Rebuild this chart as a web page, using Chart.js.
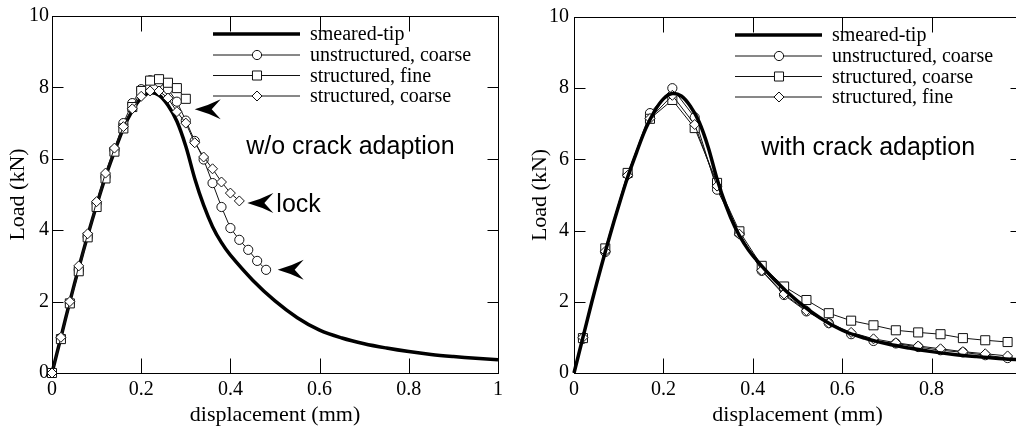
<!DOCTYPE html>
<html>
<head>
<meta charset="utf-8">
<script src="https://cdn.jsdelivr.net/npm/chart.js@4.4.1/dist/chart.umd.min.js"></script>
<style>
  html, body { margin: 0; padding: 0; background: #fff; overflow: hidden; width: 1016px; height: 429px; }
  #left { position: absolute; left: 0; top: 0; }
  #right { position: absolute; left: 508px; top: 0; }
</style>
</head>
<body>
<canvas id="left" width="508" height="429"></canvas>
<canvas id="right" width="530" height="429"></canvas>
<script>
// Tick values
const xTickValues = [0, 0.2, 0.4, 0.6, 0.8, 1];
const yTickValues = [0, 2, 4, 6, 8, 10];

// Smeared-tip reference curve (same in both panels)
const smearedX = [0, 0.02, 0.04, 0.06, 0.08, 0.10, 0.12, 0.14, 0.16, 0.18, 0.20, 0.22, 0.24, 0.26, 0.28, 0.30,
    0.32, 0.34, 0.36, 0.38, 0.40, 0.45, 0.50, 0.55, 0.60, 0.65, 0.70, 0.75, 0.80, 0.85, 0.90, 0.95, 1.00];
const smearedLoad = [0, 1.0, 2.0, 2.95, 3.85, 4.7, 5.5, 6.2, 6.85, 7.35, 7.7, 7.85, 7.78, 7.5, 7.05, 6.35,
    5.45, 4.7, 4.1, 3.65, 3.3, 2.6, 2.02, 1.55, 1.2, 0.98, 0.82, 0.7, 0.6, 0.52, 0.46, 0.41, 0.37];

// Left panel: w/o crack adaption
const leftUnstructCoarseX = [0, 0.02, 0.04, 0.06, 0.08, 0.10, 0.12, 0.14, 0.16, 0.18, 0.20, 0.22, 0.24,
    0.26, 0.28, 0.30, 0.32, 0.34, 0.36, 0.38, 0.40, 0.42, 0.44, 0.46, 0.48];
const leftUnstructCoarse = [0, 0.98, 1.96, 2.89, 3.82, 4.76, 5.5, 6.25, 7.0, 7.56, 7.95, 8.2, 8.15,
    7.95, 7.6, 7.07, 6.5, 5.98, 5.32, 4.65, 4.06, 3.73, 3.45, 3.14, 2.89];
const leftStructFineX = [0, 0.02, 0.04, 0.06, 0.08, 0.10, 0.12, 0.14, 0.16, 0.18, 0.20, 0.22, 0.24, 0.26, 0.28, 0.30];
const leftStructFine = [0, 0.95, 1.95, 2.85, 3.8, 4.65, 5.45, 6.2, 6.85, 7.45, 7.9, 8.19, 8.23, 8.13, 7.98, 7.68];
const leftStructCoarseX = [0, 0.02, 0.04, 0.06, 0.08, 0.10, 0.12, 0.14, 0.16, 0.18, 0.20, 0.22, 0.24,
    0.26, 0.28, 0.30, 0.32, 0.34, 0.36, 0.38, 0.40, 0.42];
const leftStructCoarse = [0, 1.0, 2.0, 3.0, 3.9, 4.8, 5.6, 6.3, 6.9, 7.4, 7.75, 7.9, 7.9,
    7.7, 7.32, 7.0, 6.45, 6.05, 5.72, 5.35, 5.04, 4.82];

// Right panel: with crack adaption
const rightX = [0, 0.02, 0.07, 0.12, 0.17, 0.22, 0.27, 0.32, 0.37, 0.42, 0.47, 0.52, 0.57, 0.62, 0.67,
    0.72, 0.77, 0.82, 0.87, 0.92, 0.97];
const rightUnstructCoarse = [0, 0.96, 3.4, 5.58, 7.3, 8.0, 7.18, 5.15, 3.92, 2.87, 2.19, 1.73, 1.4, 1.09, 0.9,
    0.83, 0.73, 0.64, 0.58, 0.5, 0.42];
const rightStructCoarse = [0, 0.98, 3.5, 5.62, 7.14, 7.67, 6.88, 5.34, 3.98, 3.01, 2.43, 2.05, 1.68, 1.47, 1.34,
    1.2, 1.14, 1.09, 0.98, 0.92, 0.87];
const rightStructFine = [0, 1.0, 3.42, 5.55, 7.15, 7.8, 6.98, 5.25, 3.9, 2.88, 2.22, 1.75, 1.4, 1.14, 0.96,
    0.85, 0.76, 0.68, 0.6, 0.54, 0.48];

// Annotations (data coordinates)
const leftNotes = [
    { text: 'w/o crack adaption', x: 0.669, y: 6.33, align: 'center' },
    { text: 'lock', x: 0.503, y: 4.7, align: 'left' }
];
const leftArrows = [[0.32, 7.39], [0.438, 4.76], [0.506, 2.89]];
const rightNotes = [
    { text: 'with crack adaption', x: 0.658, y: 6.33, align: 'center' }
];

const SERIF = "'Liberation Serif', 'Times New Roman', serif";
const SANS = "'Liberation Sans', Arial, sans-serif";

function toPoints(xs, ys) {
    return xs.map((x, i) => ({ x: x, y: ys[i] }));
}

function smearedSet(order) {
    return {
        label: 'smeared-tip',
        data: toPoints(smearedX, smearedLoad),
        borderColor: '#000',
        borderWidth: 3.5,
        pointRadius: 0,
        tension: 0.35,
        order: order
    };
}

function markerSet(label, xs, ys, style, radius, order, hideFirst) {
    return {
        label: label,
        data: toPoints(xs, ys),
        borderColor: '#111',
        borderWidth: 1,
        pointStyle: style,
        pointRadius: hideFirst ? (c => c.dataIndex === 0 ? 0 : radius) : radius,
        legendRadius: radius,
        pointBorderColor: '#111',
        pointBackgroundColor: '#fff',
        pointBorderWidth: 1,
        tension: 0,
        order: order
    };
}

// frame with inward ticks on all four sides
const framePlugin = {
    id: 'frame',
    beforeDatasetsDraw(chart) {
        const { ctx, chartArea: a, scales: { x, y } } = chart;
        const L = Math.round(a.left) + 0.5, R = Math.round(a.right) + 0.5;
        const T = Math.round(a.top) + 0.5, B = Math.round(a.bottom) + 0.5;
        ctx.save();
        ctx.strokeStyle = '#000';
        ctx.lineWidth = 1;
        ctx.strokeRect(L, T, R - L, B - T);
        ctx.beginPath();
        x.ticks.forEach(t => {
            const px = Math.round(x.getPixelForValue(t.value)) + 0.5;
            ctx.moveTo(px, B); ctx.lineTo(px, B - 15);
            ctx.moveTo(px, T); ctx.lineTo(px, T + 15);
        });
        y.ticks.forEach(t => {
            const py = Math.round(y.getPixelForValue(t.value)) + 0.5;
            ctx.moveTo(L, py); ctx.lineTo(L + 11, py);
            ctx.moveTo(R, py); ctx.lineTo(R - 11, py);
        });
        ctx.stroke();
        ctx.restore();
    }
};

// legend drawn inside the plot
const insideLegend = {
    id: 'insideLegend',
    afterDraw(chart) {
        const { ctx, chartArea: a } = chart;
        const rows = [18, 39, 59.5, 80];
        ctx.save();
        chart.data.datasets.forEach((ds, i) => {
            const yy = a.top + rows[i];
            const x0 = a.left + 161, x1 = a.left + 248, xm = a.left + 205;
            ctx.strokeStyle = ds.borderColor;
            ctx.lineWidth = ds.borderWidth;
            ctx.beginPath();
            ctx.moveTo(x0, yy); ctx.lineTo(x1, yy);
            ctx.stroke();
            if (ds.pointStyle) {
                ctx.fillStyle = '#fff';
                ctx.strokeStyle = ds.pointBorderColor;
                ctx.lineWidth = 1;
                Chart.helpers.drawPoint(ctx, { pointStyle: ds.pointStyle, radius: ds.legendRadius, borderWidth: 1 }, xm, yy);
            }
            ctx.fillStyle = '#000';
            ctx.font = '20px ' + SERIF;
            ctx.textAlign = 'left';
            ctx.textBaseline = 'middle';
            ctx.fillText(ds.label, a.left + 258, yy + 1);
        });
        ctx.restore();
    }
};

// text notes and arrowheads
const notesPlugin = {
    id: 'notes',
    afterDatasetsDraw(chart, args, opts) {
        const { ctx, scales: { x, y } } = chart;
        ctx.save();
        ctx.fillStyle = '#000';
        ctx.font = '25px ' + SANS;
        ctx.textBaseline = 'middle';
        (opts.notes || []).forEach(n => {
            ctx.textAlign = n.align;
            ctx.fillText(n.text, x.getPixelForValue(n.x), y.getPixelForValue(n.y));
        });
        (opts.arrows || []).forEach(([ax, ay]) => {
            const px = x.getPixelForValue(ax), py = y.getPixelForValue(ay);
            ctx.beginPath();
            ctx.moveTo(px, py);
            ctx.quadraticCurveTo(px + 14, py - 4, px + 26, py - 10);
            ctx.lineTo(px + 17, py);
            ctx.lineTo(px + 26, py + 10);
            ctx.quadraticCurveTo(px + 14, py + 4, px, py);
            ctx.closePath();
            ctx.fill();
        });
        ctx.restore();
    }
};

function buildOptions(cfg) {
    return {
        responsive: false,
        animation: false,
        layout: { padding: { top: 16, right: cfg.padRight, left: 0, bottom: 0 } },
        plugins: {
            legend: { display: false },
            tooltip: { enabled: false },
            notes: { notes: cfg.notes, arrows: cfg.arrows }
        },
        scales: {
            x: {
                type: 'linear',
                min: 0, max: 1,
                afterBuildTicks: s => { s.ticks = xTickValues.map(v => ({ value: v })); },
                afterFit: s => { s.height = 56; },
                grid: { display: false, drawTicks: false },
                border: { display: false },
                ticks: {
                    padding: 5,
                    color: '#000',
                    font: { family: SERIF, size: 20 },
                    maxRotation: 0,
                    autoSkip: false,
                    callback: v => String(+v.toFixed(1))
                },
                title: {
                    display: true,
                    text: 'displacement (mm)',
                    color: '#000',
                    font: { family: SERIF, size: 22 },
                    padding: { top: 0, bottom: 1 }
                }
            },
            y: {
                min: 0, max: 10,
                afterBuildTicks: s => { s.ticks = yTickValues.map(v => ({ value: v })); },
                afterFit: s => { s.width = cfg.yWidth; },
                grid: { display: false, drawTicks: false },
                border: { display: false },
                ticks: {
                    padding: cfg.yTickPad,
                    color: '#000',
                    font: { family: SERIF, size: 20 },
                    autoSkip: false
                },
                title: {
                    display: true,
                    text: 'Load (kN)',
                    color: '#000',
                    font: { family: SERIF, size: 22 },
                    padding: { top: cfg.yTitlePad, bottom: 0 }
                }
            }
        },
        datasets: { line: { clip: false } }
    };
}

// Left chart
new Chart(document.getElementById('left'), {
    type: 'line',
    data: {
        datasets: [
            smearedSet(4),
            markerSet('unstructured, coarse', leftUnstructCoarseX, leftUnstructCoarse, 'circle', 4.6, 3, false),
            markerSet('structured, fine', leftStructFineX, leftStructFine, 'rect', 6.4, 2, false),
            markerSet('structured, coarse', leftStructCoarseX, leftStructCoarse, 'rectRot', 5, 1, false)
        ]
    },
    options: buildOptions({ padRight: 9, yWidth: 52, yTickPad: 3, yTitlePad: 5, notes: leftNotes, arrows: leftArrows }),
    plugins: [framePlugin, notesPlugin, insideLegend]
});

// Right chart
new Chart(document.getElementById('right'), {
    type: 'line',
    data: {
        datasets: [
            smearedSet(0),
            markerSet('unstructured, coarse', rightX, rightUnstructCoarse, 'circle', 4.6, 3, true),
            markerSet('structured, coarse', rightX, rightStructCoarse, 'rect', 6.4, 2, true),
            markerSet('structured, fine', rightX, rightStructFine, 'rectRot', 5, 1, true)
        ]
    },
    options: buildOptions({ padRight: 17, yWidth: 66, yTickPad: 5, yTitlePad: 19, notes: rightNotes, arrows: [] }),
    plugins: [framePlugin, notesPlugin, insideLegend]
});
</script>
</body>
</html>
